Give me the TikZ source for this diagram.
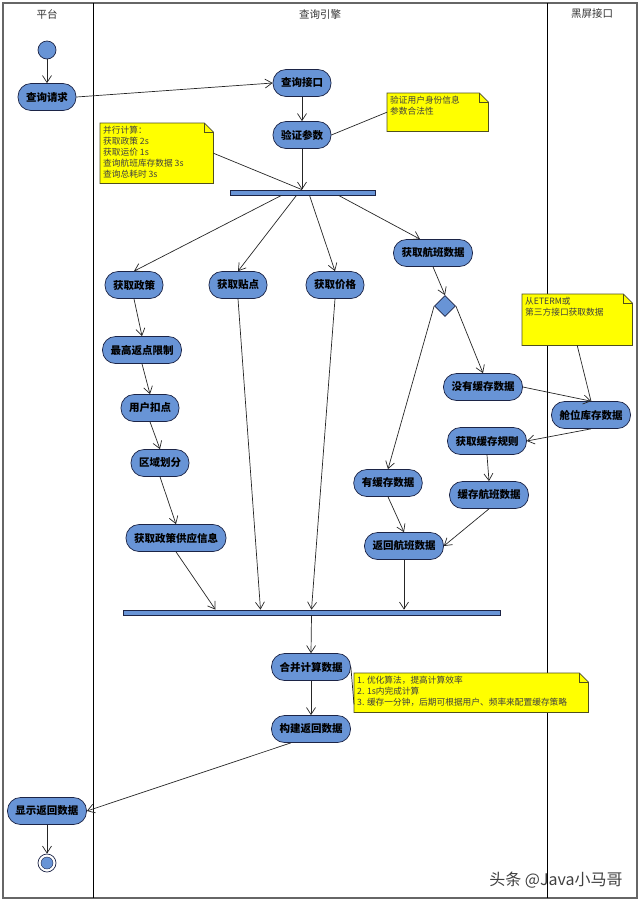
\documentclass[tikz,border=0pt]{standalone}
\usepackage{fontspec}
\newfontfamily\cjk{Noto Sans CJK SC}
\usetikzlibrary{arrows.meta,shapes.geometric}
\definecolor{actblue}{RGB}{104,148,214}
\definecolor{actline}{RGB}{28,36,70}
\definecolor{noteyel}{RGB}{255,255,0}
\definecolor{noteline}{RGB}{80,80,30}
\tikzset{
act/.style={draw=actline,line width=0.7pt,fill=actblue,rounded corners=13pt,minimum height=27pt,inner xsep=8pt,font=\cjk\bfseries\fontsize{10.5}{12}\selectfont},
bar/.style={draw=actline,line width=0.7pt,fill=actblue,minimum height=5pt,inner sep=0pt},
notebox/.style={fill=noteyel,anchor=north west,inner sep=0pt},
notetext/.style={anchor=north west,align=left,inner sep=3pt,font=\cjk\fontsize{8.7}{11}\selectfont,text=black!75},
lane/.style={font=\cjk\fontsize{10.5}{12}\selectfont,text=black!80},
flow/.style={draw=black!85,line width=0.7pt,-{Straight Barb[length=7pt,width=9pt]}},
link/.style={draw=black!85,line width=0.7pt},
}
\begin{document}
\begin{tikzpicture}[x=1pt,y=-1pt]
\useasboundingbox (0,0) rectangle (640,903);
% swimlanes
\draw[black!60,line width=1.2pt] (3,3) rectangle (637,898);
\draw[line width=0.8pt] (93,3) -- (93,898);
\draw[line width=0.8pt] (547,3) -- (547,898);
\node[lane] (l1) at (47,14) {平台};
\node[lane] (l2) at (320,14) {查询引擎};
\node[lane] (l3) at (592,14) {黑屏接口};

% notes
\node[notebox,minimum width=101pt,minimum height=38pt] (nyz) at (387,93) {};
\node[notebox,minimum width=113pt,minimum height=60pt] (npar) at (100,123) {};
\node[notebox,minimum width=110pt,minimum height=51pt] (neterm) at (522,294) {};
\node[notebox,minimum width=234pt,minimum height=39pt] (nopt) at (354,673) {};
\foreach \n in {nyz,npar,neterm,nopt}
{
\fill[white] ([xshift=-9pt]\n.north east) -- (\n.north east) -- ([yshift=-9pt]\n.north east) -- cycle;
\draw[noteline,line width=0.7pt] (\n.north west) -- ([xshift=-9pt]\n.north east) -- ([yshift=-9pt]\n.north east) -- (\n.south east) -- (\n.south west) -- cycle;
\draw[noteline,line width=0.7pt] ([xshift=-9pt]\n.north east) -- ([xshift=-9pt,yshift=-9pt]\n.north east) -- ([yshift=-9pt]\n.north east);
}
\node[notetext] (tyz) at (nyz.north west) {验证用户身份信息\\参数合法性};
\node[notetext] (tpar) at (npar.north west) {并行计算：\\获取政策 2s\\获取运价 1s\\查询航班库存数据 3s\\查询总耗时 3s};
\node[notetext] (teterm) at (neterm.north west) {从ETERM或\\第三方接口获取数据};
\node[notetext] (topt) at (nopt.north west) {1. 优化算法，提高计算效率\\2. 1s内完成计算\\3. 缓存一分钟，后期可根据用户、频率来配置缓存策略};

% platform
\node[circle,draw=actline,line width=0.7pt,fill=actblue,minimum size=18pt,inner sep=0pt] (start) at (47,50) {};
\node[act] (qq) at (47,97) {查询请求};
\node[act] (xs) at (47,811) {显示返回数据};
\node[circle,draw=actline,line width=0.7pt,minimum size=18pt,inner sep=0pt] (stop) at (47,863) {};
\node[circle,draw=actline,fill=actblue,minimum size=12pt,inner sep=0pt] (stopin) at (stop) {};

% engine
\node[act] (jk) at (302,83) {查询接口};
\node[act] (yz) at (302,135) {验证参数};
\node[bar,minimum width=145pt] (fork) at (302.5,192.5) {};
\node[act] (zc) at (134,285) {获取政策};
\node[act] (tp) at (238,285) {获取贴点};
\node[act] (jg) at (335,285) {获取价格};
\node[act] (hb) at (433,253) {获取航班数据};
\node[diamond,draw=actline,line width=0.7pt,fill=actblue,minimum width=21pt,minimum height=21pt,inner sep=0pt] (dec) at (445,306) {};
\node[act] (zg) at (142,350) {最高返点限制};
\node[act] (yh) at (150,408) {用户扣点};
\node[act] (qy) at (160,463) {区域划分};
\node[act] (gy) at (176,538) {获取政策供应信息};
\node[act] (wh) at (483,387) {没有缓存数据};
\node[act] (gz) at (487,441) {获取缓存规则};
\node[act] (yc) at (388,483) {有缓存数据};
\node[act] (hc) at (489,495) {缓存航班数据};
\node[act] (fh) at (404,546) {返回航班数据};
\node[bar,minimum width=377pt] (join) at (311.5,612.5) {};
\node[act] (hs) at (311,667) {合并计算数据};
\node[act] (gj) at (311,729) {构建返回数据};

% interface
\node[act] (cw) at (591,415) {舱位库存数据};

% flows
\draw[flow] (start) -- (qq);
\draw[flow] (qq.east) -- (jk.west);
\draw[flow] (jk) -- (yz);
\draw[flow] (yz) -- (yz |- fork.north);
\draw[flow] ([xshift=-21pt]fork.south) -- (zc.north);
\draw[flow] ([xshift=-6pt]fork.south) -- (tp.north);
\draw[flow] ([xshift=7pt]fork.south) -- (jg.north);
\draw[flow] ([xshift=36pt]fork.south) -- ([xshift=-13pt]hb.north);
\draw[flow] (zc.south) -- (zg.north);
\draw[flow] (zg.south) -- (yh.north);
\draw[flow] (yh.south) -- (qy.north);
\draw[flow] (qy.south) -- (gy.north);
\draw[flow] (hb.south) -- (dec.north);
\draw[flow] (dec.east) -- (wh.north);
\draw[flow] (dec.west) -- (yc.north);
\draw[flow] (wh.east) -- (cw.north);
\draw[flow] (cw.south) -- (gz.east);
\draw[flow] (gz.south) -- (hc.north);
\draw[flow] (hc.south) -- (fh.east);
\draw[flow] (yc.south) -- (fh.north);
\draw[flow] (gy.south) -- ([xshift=-96pt]join.north);
\draw[flow] (tp.south) -- ([xshift=-51pt]join.north);
\draw[flow] (jg.south) -- (join.north);
\draw[flow] (fh.south) -- (fh |- join.north);
\draw[flow] (join.south) -- (hs.north);
\draw[flow] (hs) -- (gj);
\draw[flow] ([xshift=-20pt]gj.south) -- (xs.east);
\draw[flow] (xs) -- (stop);

% note links
\draw[link] (npar.east) -- (yz |- fork.north);
\draw[link] (yz.east) -- (nyz.west);
\draw[link] (neterm.south) -- (cw.north);
\draw[link] (hs.east) -- ([yshift=8pt]nopt.south west);

\node[font=\cjk\fontsize{16}{18}\selectfont,text=black!75] (mark) at (556,880) {头条 @Java小马哥};
\end{tikzpicture}
\end{document}
